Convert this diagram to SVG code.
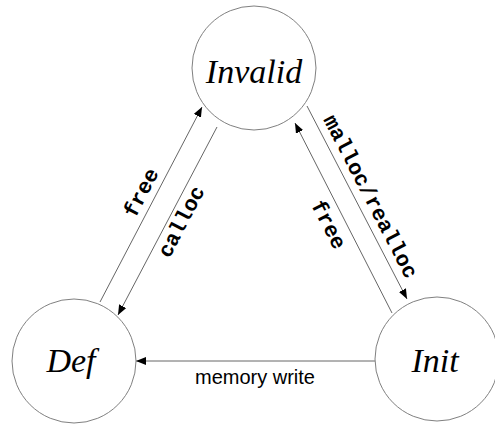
<svg xmlns="http://www.w3.org/2000/svg" width="495" height="427" viewBox="0 0 495 427">
  <style>
    .node { fill: #ffffff; stroke: #808080; stroke-width: 1; }
    .lbl { font-family: "Liberation Serif", "Times New Roman", serif; font-style: italic; font-size: 34px; fill: #000; text-anchor: middle; }
    .edge { stroke: #666666; stroke-width: 1; fill: none; marker-end: url(#arr); }
    .code { font-family: "Liberation Mono", "Courier New", monospace; font-weight: bold; font-size: 21.5px; fill: #000; text-anchor: middle; }
    .sans { font-family: "Liberation Sans", Arial, sans-serif; font-size: 20px; fill: #000; text-anchor: middle; }
  </style>
  <defs>
    <marker id="arr" viewBox="0 0 10 8" refX="10" refY="4" markerWidth="10" markerHeight="8" markerUnits="userSpaceOnUse" orient="auto">
      <path d="M0,0 L10,4 L0,8 z" fill="#000"/>
    </marker>
  </defs>
  <rect width="495" height="427" fill="#ffffff"/>
  <g id="connectors">
    <line class="edge" x1="100" y1="302" x2="202" y2="107"/>
    <line class="edge" x1="217" y1="127" x2="118" y2="315"/>
    <line class="edge" x1="307" y1="106" x2="407" y2="299"/>
    <line class="edge" x1="392" y1="313" x2="295" y2="123"/>
    <line class="edge" x1="375" y1="361" x2="136" y2="361"/>
    <text class="code" transform="translate(142,193) rotate(-62.4)" dy="6">free</text>
    <text class="code" transform="translate(182,222) rotate(-62.4)" dy="6">calloc</text>
    <text class="code" transform="translate(370,197) rotate(62.6)" dy="6">malloc/realloc</text>
    <text class="code" transform="translate(328,225) rotate(62.6)" dy="6">free</text>
    <text class="sans" x="255" y="384">memory write</text>
  </g>
  <g id="invalid">
    <circle class="node" cx="254" cy="68" r="62"/>
    <text class="lbl" x="254" y="83">Invalid</text>
  </g>
  <g id="def">
    <circle class="node" cx="74" cy="361" r="62"/>
    <text class="lbl" x="71" y="372">Def</text>
  </g>
  <g id="init">
    <circle class="node" cx="437" cy="359" r="62"/>
    <text class="lbl" x="435" y="372">Init</text>
  </g>
</svg>
